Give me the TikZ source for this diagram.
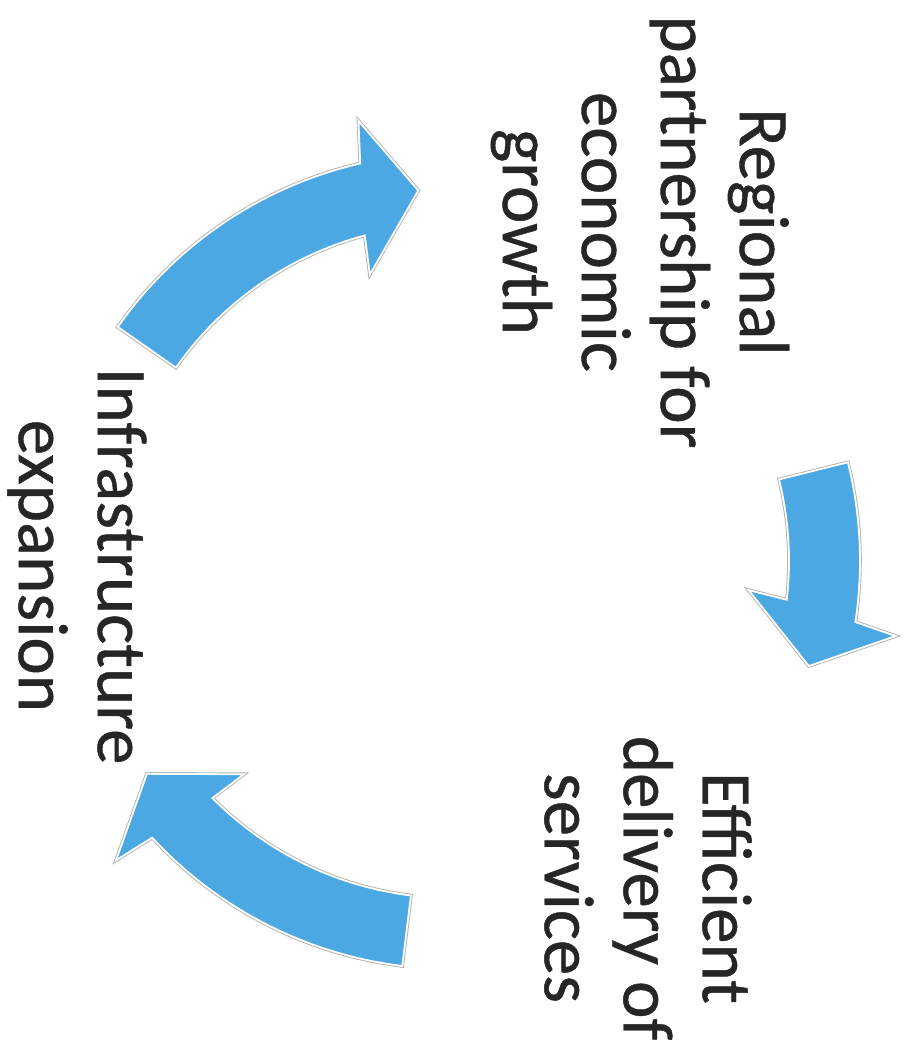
\documentclass[tikz,border=0pt]{standalone}
\usepackage{fontspec}
\setmainfont{Carlito}
\newfontfamily\cyclefont[FakeBold=0.6]{Carlito}
\definecolor{cycleblue}{RGB}{76,168,226}
\definecolor{labelgray}{RGB}{38,38,38}

\begin{document}
\begin{tikzpicture}[x=1pt, y=1pt,
    cyclelabel/.style={rotate=-90, align=center, text=labelgray, font=\cyclefont\fontsize{71}{79}\selectfont},
    rim/.style={preaction={draw=black!30, line width=3.6pt}, draw=white, line width=1.8pt, fill=cycleblue, line join=miter}]
            \useasboundingbox (-452,-490) rectangle (456,561);
            \clip (-452,-490) rectangle (456,561);
            \foreach \tail/\base in {145/104, 14/-7.6, 263/223.7} {
                \pgfmathsetmacro{\outer}{\base-1}
                \pgfmathsetmacro{\inner}{\base+1}
                \pgfmathsetmacro{\tip}{\base-8.8}
                \draw[rim] (\tail:408) arc[start angle=\tail, end angle=\outer, radius=408pt]
                    -- ({\base-2}:450) -- (\tip:372) -- ({\base+2}:298) -- (\inner:337)
                    arc[start angle=\inner, end angle=\tail, radius=337pt] -- cycle;
            }
            \node[cyclelabel] (growth) at (188,329) {Regional\\partnership for\\economic\\growth};
            \node[cyclelabel] (services) at (196,-327) {Efficient\\delivery of\\services};
            \node[cyclelabel] (infra) at (-375,-5) {Infrastructure\\expansion};
\end{tikzpicture}
\end{document}
